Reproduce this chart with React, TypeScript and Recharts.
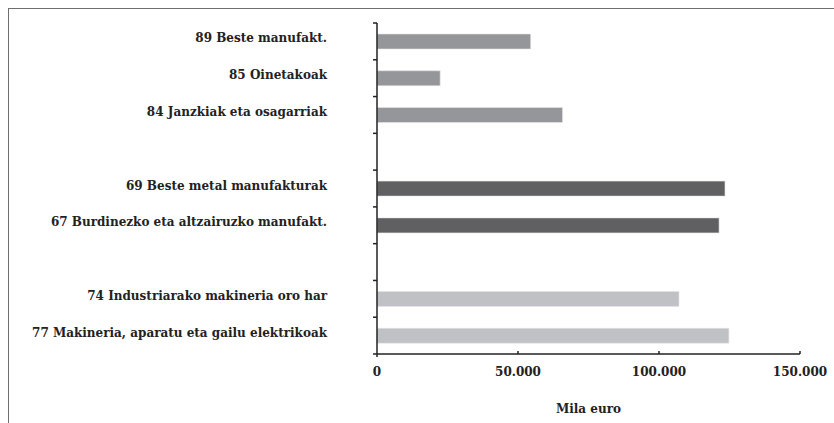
import { BarChart, Bar, XAxis, YAxis, Cell } from 'recharts';

// product groups (CNAE codes), top to bottom; blank rows separate the groups
const codes = ['89', '85', '84', 'gap1', '69', '67', 'gap2', '74', '77'];
const labels = [
  '89 Beste manufakt.',
  '85 Oinetakoak',
  '84 Janzkiak eta osagarriak',
  '',
  '69 Beste metal manufakturak',
  '67 Burdinezko eta altzairuzko manufakt.',
  '',
  '74 Industriarako makineria oro har',
  '77 Makineria, aparatu eta gailu elektrikoak',
];
const values = [54500, 22400, 65800, null, 123400, 121300, null, 107100, 124800];
const groups = ['manuf', 'manuf', 'manuf', null, 'metal', 'metal', null, 'mach', 'mach'];
const xTicks = [0, 50000, 100000, 150000];

const groupColors: Record<string, string> = {
  manuf: '#959699',
  metal: '#606062',
  mach: '#c0c1c4',
};

const data = codes.map((code, i) => ({ code, label: labels[i], value: values[i], group: groups[i] }));

const FONT = '"DejaVu Serif", serif';
const FS = 12;

const fmt = (v: number) => String(v).replace(/\B(?=(\d{3})+(?!\d))/g, '.');

const YTick = (props: any) => {
  const { x, y, payload, index } = props;
  const half = payload?.offset ?? 331 / 9 / 2;
  const item = data[index] || data.find((d) => d.code === payload.value);
  return (
    <g>
      <line x1={x - 4} x2={x} y1={y - half} y2={y - half} stroke="#222" strokeWidth={1.5} />
      {index === data.length - 1 && (
        <line x1={x - 4} x2={x} y1={y + half} y2={y + half} stroke="#222" strokeWidth={1.5} />
      )}
      <text x={x - 50} y={y + 1} textAnchor="end" fontFamily={FONT} fontWeight="bold" fontSize={FS} fill="#222">
        {item ? item.label : ''}
      </text>
    </g>
  );
};

const XTick = (props: any) => {
  const { x, y, payload } = props;
  const v = payload.value;
  return (
    <g>
      <line x1={x} x2={x} y1={y} y2={v === 0 ? y + 3 : y - 3} stroke="#222" strokeWidth={1.5} />
      <text x={x} y={y + 22} textAnchor="middle" fontFamily={FONT} fontWeight="bold" fontSize={FS} fill="#222">
        {fmt(v)}
      </text>
    </g>
  );
};

export default function App() {
  return (
    <div style={{ position: 'absolute', left: 0, top: 0, width: 834, height: 423, background: '#fff', overflow: 'hidden' }}>
      <div
        style={{
          position: 'absolute',
          left: 8,
          top: 8,
          width: 900,
          height: 500,
          borderTop: '1.5px solid #6f6f6f',
          borderLeft: '1.5px solid #6f6f6f',
        }}
      />
      <div style={{ position: 'absolute', left: 0, top: 0 }}>
        <BarChart
          width={834}
          height={423}
          data={data}
          layout="vertical"
          margin={{ top: 23, right: 34, left: 0, bottom: 0 }}
        >
          <XAxis
            type="number"
            domain={[0, 150000]}
            ticks={xTicks}
            interval={0}
            axisLine={{ stroke: '#222', strokeWidth: 1.5 }}
            tickLine={false}
            tickSize={0}
            tickMargin={0}
            tick={<XTick />}
            height={69}
            label={{
              value: 'Mila euro',
              position: 'insideBottom',
              offset: 10,
              style: { fontFamily: FONT, fontWeight: 'bold', fontSize: FS, fill: '#222' },
            }}
          />
          <YAxis
            type="category"
            dataKey="code"
            width={377}
            interval={0}
            axisLine={{ stroke: '#222', strokeWidth: 1.5 }}
            tickLine={false}
            tickSize={0}
            tickMargin={0}
            tick={<YTick />}
          />
          <Bar dataKey="value" barSize={15} isAnimationActive={false} stroke="#e6e6e6" strokeWidth={0.6}>
            {data.map((d, i) => (
              <Cell key={`cell-${i}`} fill={d.group ? groupColors[d.group] : 'none'} />
            ))}
          </Bar>
        </BarChart>
      </div>
    </div>
  );
}
